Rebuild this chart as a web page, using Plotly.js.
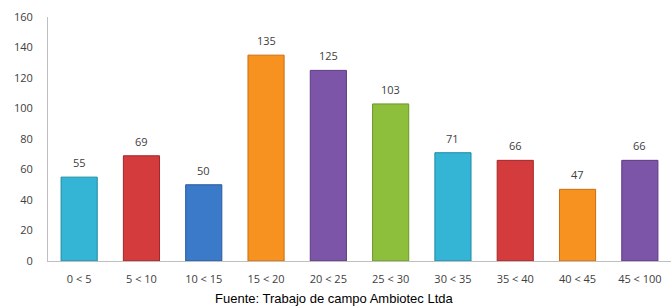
<!DOCTYPE html>
<html><head><meta charset="utf-8">
<script src="https://cdn.plot.ly/plotly-3.0.1.min.js"></script>
<style>body{margin:0;background:#fff}#chart{width:671px;height:307px}</style>
</head><body><div id="chart"></div>
<script>
const categories = ["0 < 5","5 < 10","10 < 15","15 < 20","20 < 25","25 < 30","30 < 35","35 < 40","40 < 45","45 < 100"];
const values = [55,69,50,135,125,103,71,66,47,66];
const barColors = ["#34b5d6","#d33b3d","#3b79c9","#f7911f","#7d55a8","#8dbf3c","#34b5d6","#d33b3d","#f7911f","#7d55a8"];
const lineColors = ["#1f8aa6","#a52628","#285a9c","#c86e10","#5b3a80","#6a9628","#1f8aa6","#a52628","#c86e10","#5b3a80"];
const yTicks = [0,20,40,60,80,100,120,140,160];
const footer = "Fuente: Trabajo de campo Ambiotec Ltda";

const valueLabels = categories.map((c, i) => ({
  x: c, y: values[i], xref: "x", yref: "y", text: String(values[i]), showarrow: false,
  yanchor: "bottom", yshift: 5,
  font: {family: "Open Sans, sans-serif", size: 11, color: "#404040"}
}));

Plotly.newPlot("chart", [{
  type: "bar", x: categories, y: values,
  marker: {color: barColors, line: {color: lineColors, width: 1}},
  width: 0.58,
  hoverinfo: "none"
}], {
  width: 671, height: 307,
  margin: {l: 48, r: 0, t: 17, b: 46},
  paper_bgcolor: "#fff", plot_bgcolor: "#fff",
  showlegend: false,
  xaxis: {type: "category", showgrid: false, showline: true, linecolor: "#bfbfbf", linewidth: 1,
          ticks: "", ticklabelstandoff: 8,
          tickfont: {family: "Open Sans, sans-serif", size: 11, color: "#404040"}, zeroline: false},
  yaxis: {range: [0,160], tickvals: yTicks, showgrid: false, showline: true, linecolor: "#bfbfbf", linewidth: 1,
          ticks: "", ticklabelstandoff: 12, zeroline: false,
          tickfont: {family: "Open Sans, sans-serif", size: 11, color: "#404040"}},
  annotations: valueLabels.concat([{text: footer, xref: "paper", yref: "paper", x: 0.46, y: -37/244, xanchor: "center", yanchor: "middle",
                 showarrow: false, font: {family: "Liberation Sans, Arial, sans-serif", size: 13, color: "#000"}}])
}, {displayModeBar: false, staticPlot: true});
</script></body></html>
